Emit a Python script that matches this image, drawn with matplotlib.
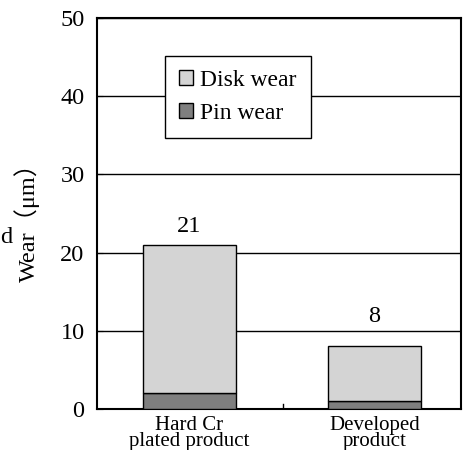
import numpy as np
import matplotlib.pyplot as plt
from matplotlib.patches import Patch

plt.rcParams['font.family'] = ['Liberation Serif', 'Noto Sans CJK JP', 'DejaVu Sans']

# data
categories = ["Hard Cr\nplated product", "Developed\nproduct"]
pin_wear = [2, 1]
disk_wear = [19, 7]
totals = [21, 8]

disk_color = '#d4d4d4'
pin_color = '#7f7f7f'

fig = plt.figure(figsize=(4.67, 4.5), dpi=100)
ax = fig.add_axes([97 / 467, 1 - 409 / 450, 364 / 467, 391 / 450])

x = np.arange(len(categories))
ax.bar(x, pin_wear, width=0.5, color=pin_color, edgecolor='black', linewidth=1, zorder=3)
ax.bar(x, disk_wear, width=0.5, bottom=pin_wear, color=disk_color, edgecolor='black',
       linewidth=1, zorder=3)

# value labels sit a bit higher over the short bar in the original
label_gap = [1.6, 3.1]
for xi, t, g in zip(x, totals, label_gap):
    ax.text(xi, t + g, str(t), ha='center', va='baseline', fontsize=17.5)

ax.set_xlim(-0.5, 1.468)
ax.set_ylim(0, 50)
ax.set_yticks([0, 10, 20, 30, 40, 50])
ax.yaxis.grid(True, color='black', linewidth=1)
ax.set_axisbelow(True)
ax.tick_params(axis='y', direction='in', length=4, labelsize=17.5, pad=9)
ax.set_xticks(x)
ax.set_xticklabels(categories, fontsize=15, linespacing=0.78)
ax.tick_params(axis='x', length=0, pad=5)
# small separator tick between the two categories
ax.plot([0.505, 0.505], [0, 0.6], color='black', linewidth=1, zorder=4)

for s in ax.spines.values():
    s.set_linewidth(1.5)

ax.set_ylabel("Wear（μm）", fontsize=17.5)
ax.yaxis.set_label_coords(-57 / 364, 0.492)
fig.text(0, 1 - 238 / 450, "d", fontsize=17.5, ha='left', va='center')

handles = [Patch(facecolor=disk_color, edgecolor='black', label='Disk wear'),
           Patch(facecolor=pin_color, edgecolor='black', label='Pin wear')]
leg = ax.legend(handles=handles, loc='upper left', bbox_to_anchor=(68 / 364, 1 - 38 / 391),
                fontsize=17, frameon=True, fancybox=False, handlelength=0.6, handleheight=0.6,
                handletextpad=0.3, borderpad=0.6, labelspacing=0.5, borderaxespad=0)
leg.get_frame().set_edgecolor('black')
leg.get_frame().set_linewidth(1)
leg.get_frame().set_alpha(1)

fig.savefig("out.png", dpi=100)
